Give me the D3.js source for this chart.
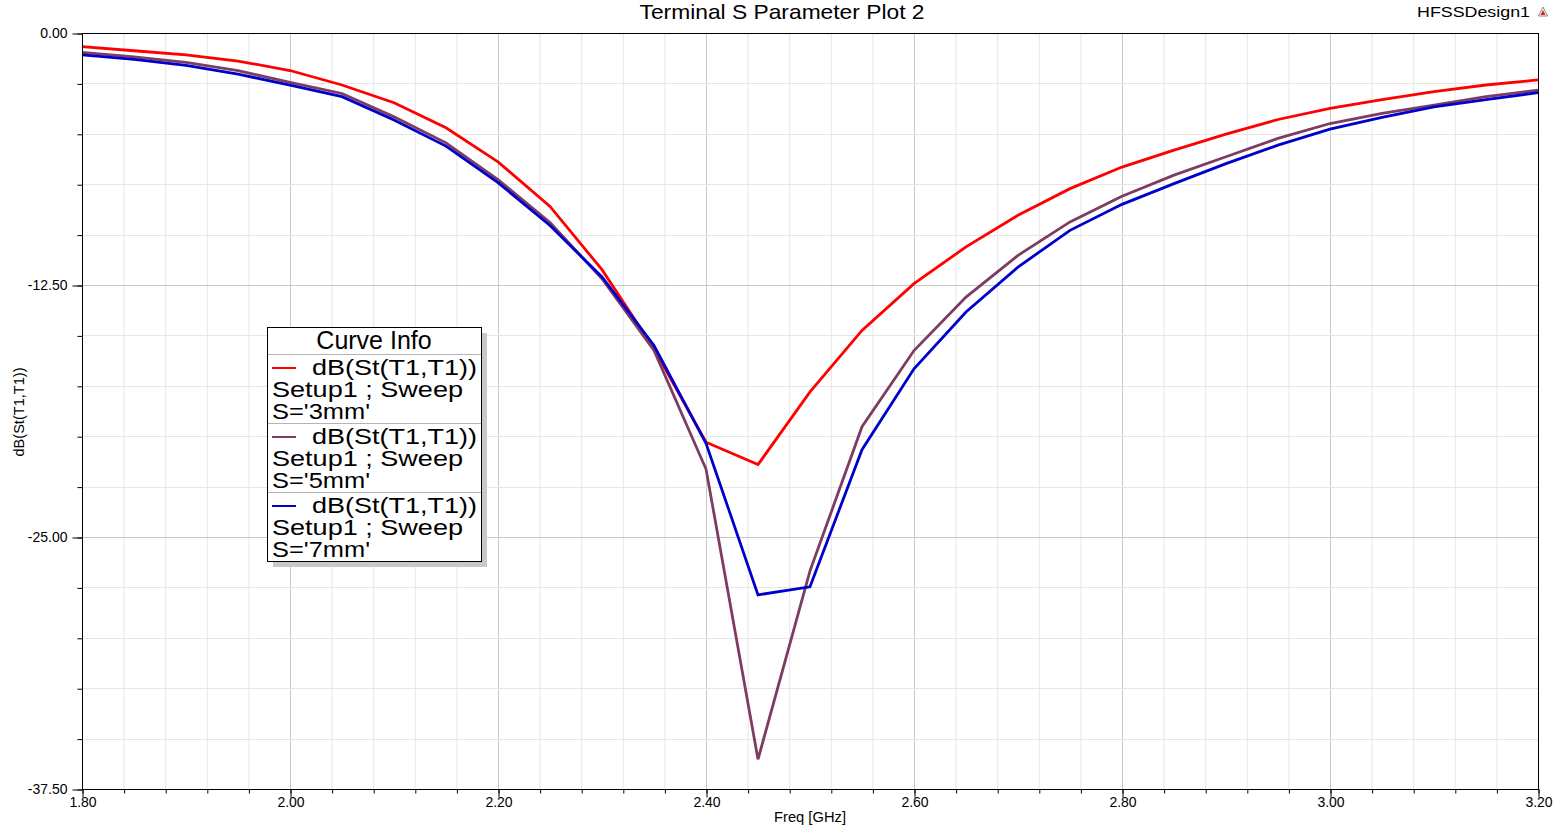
<!DOCTYPE html>
<html>
<head>
<meta charset="utf-8">
<script src="https://cdn.jsdelivr.net/npm/d3@7"></script>
<style>
  html, body { margin: 0; padding: 0; background: #fff; }
  svg { display: block; font-family: "Liberation Sans", Arial, sans-serif; }
</style>
</head>
<body>
<svg id="chart" width="1565" height="831"></svg>
<script>
// ---------- data ----------
const freq = [1.80,1.85,1.90,1.95,2.00,2.05,2.10,2.15,2.20,2.25,2.30,2.35,2.40,2.45,2.50,2.55,2.60,2.65,2.70,2.75,2.80,2.85,2.90,2.95,3.00,3.05,3.10,3.15,3.20];
const s3mm = [-0.68,-0.88,-1.09,-1.39,-1.86,-2.58,-3.46,-4.70,-6.39,-8.60,-11.74,-15.66,-20.30,-21.41,-17.80,-14.75,-12.43,-10.61,-9.04,-7.72,-6.65,-5.81,-5.02,-4.29,-3.74,-3.30,-2.91,-2.58,-2.33];
const s5mm = [-0.96,-1.18,-1.46,-1.87,-2.45,-3.00,-4.16,-5.45,-7.27,-9.40,-12.19,-15.75,-21.63,-36.03,-26.68,-19.53,-15.75,-13.10,-11.03,-9.37,-8.10,-7.05,-6.14,-5.23,-4.49,-3.99,-3.58,-3.16,-2.83];
const s7mm = [-1.09,-1.31,-1.61,-2.04,-2.59,-3.16,-4.32,-5.61,-7.42,-9.55,-12.10,-15.50,-20.35,-27.87,-27.47,-20.67,-16.66,-13.84,-11.61,-9.79,-8.50,-7.47,-6.48,-5.56,-4.77,-4.19,-3.66,-3.30,-2.96];
const seriesNames = ["S='3mm'", "S='5mm'", "S='7mm'"];
const xMajorTicks = [1.80,2.00,2.20,2.40,2.60,2.80,3.00,3.20];
const xTickLabels = ["1.80","2.00","2.20","2.40","2.60","2.80","3.00","3.20"];
const yMajorTicks = [0,-12.5,-25,-37.5];
const yTickLabels = ["0.00","-12.50","-25.00","-37.50"];
const xMinorStep = 0.04, yMinorStep = 2.5;

// ---------- layout ----------
const L = 82, R = 1538, T = 33, B = 789;
const colors = ["#ff0000", "#7d3c62", "#0000cc"];
const svg = d3.select("#chart");
const x = d3.scaleLinear().domain([1.8, 3.2]).range([L, R]);
const y = d3.scaleLinear().domain([0, -37.5]).range([T, B]);

const xMinor = d3.range(0, 36, 1).map(i => +(1.8 + i * xMinorStep).toFixed(2));
const yMinor = d3.range(0, 16, 1).map(i => -i * yMinorStep);

// grid
const grid = svg.append("g");
grid.selectAll(".gx").data(xMinor).join("line")
  .attr("x1", d => x(d) + 0.5).attr("x2", d => x(d) + 0.5)
  .attr("y1", T).attr("y2", B)
  .attr("stroke", d => xMajorTicks.some(m => Math.abs(m - d) < 1e-6) ? "#c8c8c8" : "#e6e6e6");
grid.selectAll(".gy").data(yMinor).join("line")
  .attr("y1", d => Math.round(y(d)) + 0.5).attr("y2", d => Math.round(y(d)) + 0.5)
  .attr("x1", L).attr("x2", R)
  .attr("stroke", d => yMajorTicks.some(m => Math.abs(m - d) < 1e-6) ? "#c8c8c8" : "#e6e6e6");

// curves
const series = [s3mm, s5mm, s7mm];
const line = d3.line().x((d, i) => x(freq[i])).y(d => y(d));
series.forEach((s, k) => {
  svg.append("path").datum(s).attr("d", line)
    .attr("fill", "none").attr("stroke", colors[k]).attr("stroke-width", 2.8)
    .attr("stroke-linejoin", "miter");
});

// frame
svg.append("rect").attr("x", L + 0.5).attr("y", T + 0.5).attr("width", R - L).attr("height", B - T)
  .attr("fill", "none").attr("stroke", "#000").attr("stroke-width", 1);

// x axis
const xAxisMinor = d3.axisBottom(x).tickValues(xMinor).tickSize(4).tickFormat("");
svg.append("g").attr("transform", `translate(0.5,${B + 0.5})`).call(xAxisMinor)
  .call(g => g.select(".domain").remove())
  .call(g => g.selectAll("line").attr("stroke", "#000"));
const xAxisMajor = d3.axisBottom(x).tickValues(xMajorTicks).tickSize(8).tickPadding(1)
  .tickFormat((d, i) => xTickLabels[i]);
svg.append("g").attr("transform", `translate(0.5,${B + 0.5})`).call(xAxisMajor)
  .call(g => g.select(".domain").remove())
  .call(g => g.selectAll("line").attr("stroke", "#000"))
  .call(g => g.selectAll("text").attr("font-size", 14).attr("fill", "#000")
    .attr("font-family", "Liberation Sans, Arial, sans-serif").attr("dy", "0.71em").attr("y", 8));

// y axis
const yAxisMinor = d3.axisLeft(y).tickValues(yMinor).tickSize(5).tickFormat("");
svg.append("g").attr("transform", `translate(${L + 0.5},0.5)`).call(yAxisMinor)
  .call(g => g.select(".domain").remove())
  .call(g => g.selectAll("line").attr("stroke", "#000"));
const yAxisMajor = d3.axisLeft(y).tickValues(yMajorTicks).tickSize(10).tickPadding(5)
  .tickFormat((d, i) => yTickLabels[i]);
svg.append("g").attr("transform", `translate(${L + 0.5},0.5)`).call(yAxisMajor)
  .call(g => g.select(".domain").remove())
  .call(g => g.selectAll("line").attr("stroke", "#000"))
  .call(g => g.selectAll("text").attr("font-size", 14).attr("fill", "#000")
    .attr("font-family", "Liberation Sans, Arial, sans-serif"));

// titles
svg.append("text").attr("x", 782).attr("y", 19).attr("text-anchor", "middle")
  .attr("font-size", 21).attr("textLength", 285).attr("lengthAdjust", "spacingAndGlyphs")
  .text("Terminal S Parameter Plot 2");
svg.append("text").attr("x", 1417).attr("y", 17)
  .attr("font-size", 15).attr("textLength", 113).attr("lengthAdjust", "spacingAndGlyphs")
  .text("HFSSDesign1");
// small logo
const logo = svg.append("g").attr("transform", "translate(1543,12)");
logo.append("path").attr("d", "M0,-5 L4.5,4 L-4.5,4 Z").attr("fill", "none").attr("stroke", "#888").attr("stroke-width", 1);
logo.append("path").attr("d", "M0,-2 L2.5,3 L-2.5,3 Z").attr("fill", "#e02020");
svg.append("text").attr("x", 810).attr("y", 822).attr("text-anchor", "middle")
  .attr("font-size", 14).attr("textLength", 72).attr("lengthAdjust", "spacingAndGlyphs")
  .text("Freq [GHz]");
svg.append("text").attr("transform", "translate(24,412) rotate(-90)").attr("text-anchor", "middle")
  .attr("font-size", 14).attr("textLength", 89).attr("lengthAdjust", "spacingAndGlyphs")
  .text("dB(St(T1,T1))");

// legend
const lg = svg.append("g");
const LX = 267, LY = 327, LW = 214, LH = 234;
lg.append("rect").attr("x", LX + 6).attr("y", LY + 6).attr("width", LW).attr("height", LH).attr("fill", "#c8c8c8");
lg.append("rect").attr("x", LX + 0.5).attr("y", LY + 0.5).attr("width", LW).attr("height", LH)
  .attr("fill", "#fff").attr("stroke", "#000");
lg.append("text").attr("x", LX + LW / 2).attr("y", 349).attr("text-anchor", "middle")
  .attr("font-size", 25).text("Curve Info");
const sepY = [354, 423, 492];
sepY.forEach(sy => lg.append("line").attr("x1", LX + 1).attr("x2", LX + LW).attr("y1", sy + 0.5).attr("y2", sy + 0.5)
  .attr("stroke", "#b4b4b4"));
seriesNames.forEach((nm, k) => {
  const base = sepY[k];
  lg.append("line").attr("x1", 272).attr("x2", 296).attr("y1", base + 14).attr("y2", base + 14)
    .attr("stroke", colors[k]).attr("stroke-width", 2);
  lg.append("text").attr("x", 312).attr("y", base + 21).attr("font-size", 22)
    .attr("textLength", 165).attr("lengthAdjust", "spacingAndGlyphs").text("dB(St(T1,T1))");
  lg.append("text").attr("x", 272).attr("y", base + 42.5).attr("font-size", 22)
    .attr("textLength", 191).attr("lengthAdjust", "spacingAndGlyphs").text("Setup1 ; Sweep");
  lg.append("text").attr("x", 272).attr("y", base + 64.5).attr("font-size", 22)
    .attr("textLength", 98).attr("lengthAdjust", "spacingAndGlyphs").text(nm);
});
</script>
</body>
</html>
